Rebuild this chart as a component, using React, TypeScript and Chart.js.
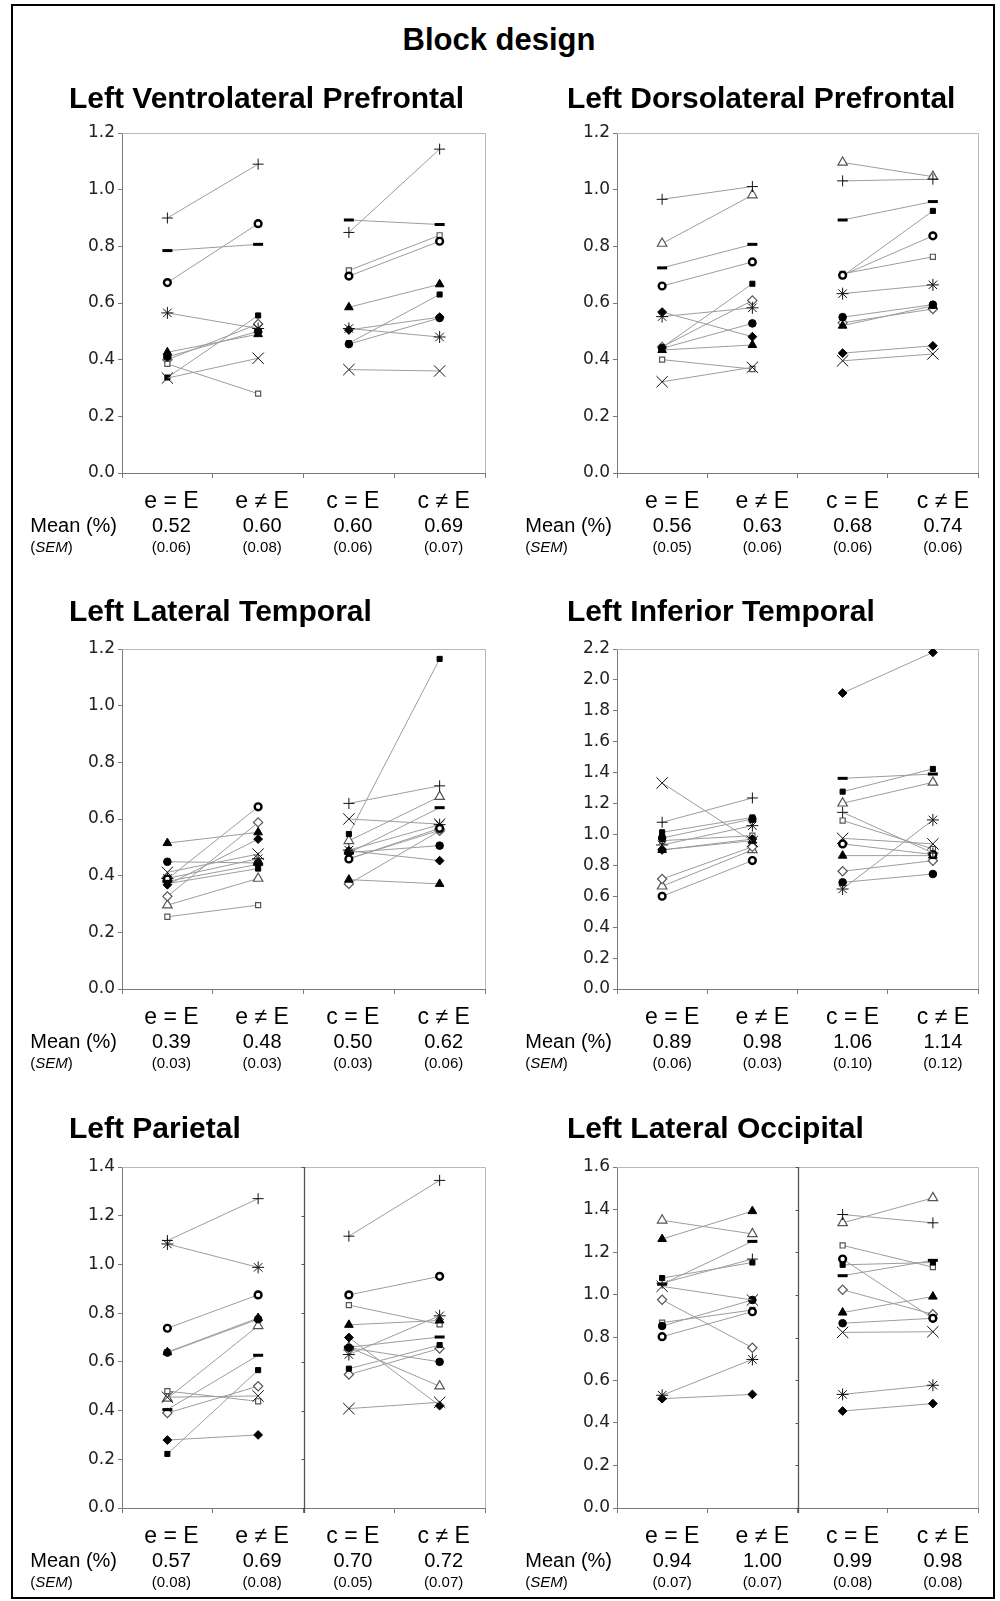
import React, { useEffect, useRef } from 'react';
import { Chart, registerables } from 'chart.js';

Chart.register(...registerables);

// ---------- data ----------
const CATEGORIES = ['e = E', 'e \u2260 E', 'c = E', 'c \u2260 E'];
const CATEGORY_X = [0.5, 1.5, 2.5, 3.5];

// subject order: +, dash, bold circle, asterisk, X, filled square, filled diamond,
// filled triangle, filled circle, open square, open diamond, open triangle
const LVP_E_EQ = [0.90, 0.785, 0.672, 0.565, 0.335, 0.337, null, 0.426, 0.41, 0.385, 0.40, null];
const LVP_E_NE = [1.09, 0.807, 0.88, 0.51, 0.405, 0.556, null, 0.49, 0.50, 0.28, 0.526, null];
const LVP_C_EQ = [0.849, 0.893, 0.695, 0.51, 0.365, 0.458, 0.505, 0.585, 0.455, 0.715, null, null];
const LVP_C_NE = [1.143, 0.877, 0.818, 0.48, 0.36, 0.63, 0.55, 0.666, 0.547, 0.839, null, null];
const LVP_MEAN = ['0.52', '0.60', '0.60', '0.69'];
const LVP_SEM = ['(0.06)', '(0.08)', '(0.06)', '(0.07)'];

const LDP_E_EQ = [0.966, 0.724, 0.66, 0.552, 0.322, 0.443, 0.568, 0.434, 0.44, 0.40, 0.445, 0.81];
const LDP_E_NE = [1.011, 0.807, 0.745, 0.583, 0.373, 0.668, 0.481, 0.452, 0.528, 0.367, 0.609, 0.981];
const LDP_C_EQ = [1.031, 0.893, 0.698, 0.633, 0.396, 0.695, 0.423, 0.52, 0.55, 0.703, 0.53, 1.096];
const LDP_C_NE = [1.037, 0.958, 0.837, 0.664, 0.42, 0.925, 0.449, 0.59, 0.594, 0.763, 0.579, 1.046];
const LDP_MEAN = ['0.56', '0.63', '0.68', '0.74'];
const LDP_SEM = ['(0.05)', '(0.06)', '(0.06)', '(0.06)'];

const LLT_E_EQ = [null, 0.38, 0.388, 0.39, 0.412, 0.372, 0.368, 0.515, 0.449, 0.255, 0.327, 0.296];
const LLT_E_NE = [null, 0.44, 0.643, 0.46, 0.476, 0.425, 0.529, 0.553, 0.445, 0.296, 0.588, 0.39];
const LLT_C_EQ = [0.655, 0.48, 0.459, 0.49, 0.60, 0.547, 0.488, 0.386, 0.482, 0.46, 0.371, 0.523];
const LLT_C_NE = [0.717, 0.64, 0.567, 0.58, 0.582, 1.165, 0.453, 0.371, 0.506, 0.56, 0.558, 0.679];
const LLT_MEAN = ['0.39', '0.48', '0.50', '0.62'];
const LLT_SEM = ['(0.03)', '(0.03)', '(0.03)', '(0.06)'];

const LIT_E_EQ = [1.079, null, 0.60, 0.932, 1.333, 1.014, 0.90, 0.90, 0.977, 0.96, 0.712, 0.665];
const LIT_E_NE = [1.236, null, 0.831, 1.057, 0.955, 1.11, 0.97, 0.96, 1.10, 0.992, 0.92, 0.90];
const LIT_C_EQ = [1.143, 1.363, 0.939, 0.647, 0.975, 1.277, 1.915, 0.863, 0.69, 1.09, 0.762, 1.202];
const LIT_C_NE = [0.88, 1.391, 0.87, 1.094, 0.939, 1.424, 2.178, 0.863, 0.744, 0.906, 0.83, 1.337];
const LIT_MEAN = ['0.89', '0.98', '1.06', '1.14'];
const LIT_SEM = ['(0.06)', '(0.03)', '(0.10)', '(0.12)'];

const LP_E_EQ = [1.098, 0.404, 0.738, 1.084, 0.455, 0.222, 0.279, 0.64, 0.638, 0.48, 0.39, 0.45];
const LP_E_NE = [1.27, 0.627, 0.875, 0.988, 0.46, 0.566, 0.30, 0.78, 0.775, 0.438, 0.50, 0.748];
const LP_C_EQ = [1.116, 0.66, 0.875, 0.63, 0.408, 0.572, 0.70, 0.752, 0.658, 0.833, 0.548, 0.66];
const LP_C_NE = [1.345, 0.702, 0.951, 0.789, 0.434, 0.669, 0.42, 0.77, 0.60, 0.754, 0.655, 0.50];
const LP_MEAN = ['0.57', '0.69', '0.70', '0.72'];
const LP_SEM = ['(0.08)', '(0.08)', '(0.05)', '(0.07)'];

const LLO_E_EQ = [1.055, 1.05, 0.804, 0.529, 1.04, 1.079, 0.513, 1.262, 0.854, 0.87, 0.977, 1.35];
const LLO_E_NE = [1.168, 1.251, 0.921, 0.697, 0.976, 1.152, 0.533, 1.393, 0.976, 0.929, 0.752, 1.286];
const LLO_C_EQ = [1.377, 1.09, 1.168, 0.533, 0.824, 1.141, 0.455, 0.917, 0.867, 1.232, 1.024, 1.338];
const LLO_C_NE = [1.338, 1.162, 0.89, 0.576, 0.827, 1.152, 0.49, 0.992, 0.89, 1.13, 0.909, 1.455];
const LLO_MEAN = ['0.94', '1.00', '0.99', '0.98'];
const LLO_SEM = ['(0.07)', '(0.07)', '(0.08)', '(0.08)'];

const TICKS_12 = [0, 0.2, 0.4, 0.6, 0.8, 1.0, 1.2];
const TICKS_22 = [0, 0.2, 0.4, 0.6, 0.8, 1.0, 1.2, 1.4, 1.6, 1.8, 2.0, 2.2];
const TICKS_14 = [0, 0.2, 0.4, 0.6, 0.8, 1.0, 1.2, 1.4];
const TICKS_16 = [0, 0.2, 0.4, 0.6, 0.8, 1.0, 1.2, 1.4, 1.6];

// ---------- styling ----------
const MARKERS = [
  { style: 'cross', r: 5.5, fill: '#000', stroke: '#111', w: 1 },
  { style: 'line', r: 5, fill: '#000', stroke: '#000', w: 3 },
  { style: 'circle', r: 3.4, fill: '#fff', stroke: '#000', w: 2.4 },
  { style: 'star', r: 6, fill: '#000', stroke: '#111', w: 1 },
  { style: 'crossRot', r: 8, fill: '#000', stroke: '#111', w: 1 },
  { style: 'rect', r: 3.6, fill: '#000', stroke: '#000', w: 1 },
  { style: 'rectRot', r: 4.4, fill: '#000', stroke: '#000', w: 1 },
  { style: 'triangle', r: 5, fill: '#000', stroke: '#000', w: 1 },
  { style: 'circle', r: 3.8, fill: '#000', stroke: '#000', w: 1 },
  { style: 'rect', r: 3.6, fill: '#fff', stroke: '#555', w: 1.2 },
  { style: 'rectRot', r: 4.6, fill: '#fff', stroke: '#555', w: 1.2 },
  { style: 'triangle', r: 5.5, fill: '#fff', stroke: '#555', w: 1.2 },
];

const ROWS = [
  { plotTop: 133, plotBottom: 473, titleBase: 108 },
  { plotTop: 649, plotBottom: 989, titleBase: 621 },
  { plotTop: 1167, plotBottom: 1508, titleBase: 1138 },
];
const COLS = [
  { canvasLeft: 14, width: 481, plotLeft: 122, plotRight: 485, titleX: 69, shift: 4 },
  { canvasLeft: 500, width: 485, plotLeft: 617, plotRight: 978, titleX: 567, shift: 10 },
];

const PANELS = [
  { title: 'Left Ventrolateral Prefrontal', row: 0, col: 0, eEq: LVP_E_EQ, eNe: LVP_E_NE, cEq: LVP_C_EQ, cNe: LVP_C_NE, means: LVP_MEAN, sems: LVP_SEM, ticks: TICKS_12, divider: false },
  { title: 'Left Dorsolateral Prefrontal', row: 0, col: 1, eEq: LDP_E_EQ, eNe: LDP_E_NE, cEq: LDP_C_EQ, cNe: LDP_C_NE, means: LDP_MEAN, sems: LDP_SEM, ticks: TICKS_12, divider: false },
  { title: 'Left Lateral Temporal', row: 1, col: 0, eEq: LLT_E_EQ, eNe: LLT_E_NE, cEq: LLT_C_EQ, cNe: LLT_C_NE, means: LLT_MEAN, sems: LLT_SEM, ticks: TICKS_12, divider: false },
  { title: 'Left Inferior Temporal', row: 1, col: 1, eEq: LIT_E_EQ, eNe: LIT_E_NE, cEq: LIT_C_EQ, cNe: LIT_C_NE, means: LIT_MEAN, sems: LIT_SEM, ticks: TICKS_22, divider: false },
  { title: 'Left Parietal', row: 2, col: 0, eEq: LP_E_EQ, eNe: LP_E_NE, cEq: LP_C_EQ, cNe: LP_C_NE, means: LP_MEAN, sems: LP_SEM, ticks: TICKS_14, divider: true },
  { title: 'Left Lateral Occipital', row: 2, col: 1, eEq: LLO_E_EQ, eNe: LLO_E_NE, cEq: LLO_C_EQ, cNe: LLO_C_NE, means: LLO_MEAN, sems: LLO_SEM, ticks: TICKS_16, divider: true },
];

const SANS = '"Liberation Sans", Arial, Helvetica, sans-serif';
const WY = 45;
const HX = 8;

function pairDataset(m: any, a: number | null, b: number | null, xa: number, xb: number) {
  const data: any[] = [];
  if (a !== null && a !== undefined) data.push({ x: xa, y: a });
  if (b !== null && b !== undefined) data.push({ x: xb, y: b });
  return {
    data,
    showLine: true,
    borderColor: '#9c9c9c',
    borderWidth: 1,
    pointStyle: m.style,
    pointRadius: m.r,
    pointHoverRadius: m.r,
    pointBackgroundColor: m.fill,
    pointBorderColor: m.stroke,
    pointBorderWidth: m.w,
    fill: false,
  };
}

const decorPlugin = {
  id: 'panelDecor',
  beforeDatasetsDraw(chart: any, _args: any, opts: any) {
    const { ctx, chartArea: a, scales } = chart;
    ctx.save();
    ctx.strokeStyle = '#b8b8b8';
    ctx.lineWidth = 1;
    ctx.beginPath();
    ctx.moveTo(a.left, Math.round(a.top) + 0.5);
    ctx.lineTo(Math.round(a.right) + 0.5, Math.round(a.top) + 0.5);
    ctx.lineTo(Math.round(a.right) + 0.5, a.bottom);
    ctx.stroke();
    if (opts.divider) {
      const xs = Math.round(scales.x.getPixelForValue(2)) + 0.5;
      ctx.strokeStyle = '#555';
      ctx.lineWidth = 1.3;
      ctx.beginPath();
      ctx.moveTo(xs, a.top);
      ctx.lineTo(xs, a.bottom + 5);
      ctx.stroke();
      ctx.lineWidth = 1;
      ctx.beginPath();
      for (const v of opts.ticks) {
        const y = Math.round(scales.y.getPixelForValue(v)) + 0.5;
        ctx.moveTo(xs - 3, y);
        ctx.lineTo(xs, y);
      }
      ctx.stroke();
    }
    ctx.restore();
  },
  afterDraw(chart: any, _args: any, opts: any) {
    const { ctx, chartArea: a, scales } = chart;
    ctx.save();
    ctx.fillStyle = '#000';
    // title
    ctx.font = `bold 30px ${SANS}`;
    ctx.textAlign = 'left';
    ctx.textBaseline = 'alphabetic';
    ctx.fillText(opts.title, opts.titleX, opts.titleBase);
    // category labels, means, sems
    ctx.textAlign = 'center';
    CATEGORY_X.forEach((v, i) => {
      const x = scales.x.getPixelForValue(v) + opts.shift;
      ctx.font = `23px ${SANS}`;
      ctx.fillText(CATEGORIES[i], x, a.bottom + 35);
      ctx.font = `20px ${SANS}`;
      ctx.fillText(opts.means[i], x, a.bottom + 59);
      ctx.font = `15px ${SANS}`;
      ctx.fillText(opts.sems[i], x, a.bottom + 79);
    });
    // row labels
    ctx.font = `20px ${SANS}`;
    ctx.textAlign = 'right';
    const meanRight = a.left - 5;
    ctx.fillText('Mean (%)', meanRight, a.bottom + 59);
    const meanLeft = meanRight - ctx.measureText('Mean (%)').width;
    ctx.textAlign = 'left';
    ctx.font = `15px ${SANS}`;
    let x = meanLeft;
    ctx.fillText('(', x, a.bottom + 79);
    x += ctx.measureText('(').width;
    ctx.font = `italic 15px ${SANS}`;
    ctx.fillText('SEM', x, a.bottom + 79);
    x += ctx.measureText('SEM').width;
    ctx.font = `15px ${SANS}`;
    ctx.fillText(')', x, a.bottom + 79);
    ctx.restore();
  },
};

function Panel({ p }: { p: any }) {
  const ref = useRef<HTMLCanvasElement>(null);
  const row = ROWS[p.row];
  const col = COLS[p.col];
  const top = row.titleBase - 35;
  const height = row.plotBottom + 88 - top;
  const padTop = row.plotTop - top;
  const padBottom = height - (row.plotBottom - top) - HX;
  const padLeft = col.plotLeft - col.canvasLeft - WY;
  const padRight = col.canvasLeft + col.width - col.plotRight;

  useEffect(() => {
    const datasets: any[] = [];
    MARKERS.forEach((m, i) => {
      datasets.push(pairDataset(m, p.eEq[i], p.eNe[i], CATEGORY_X[0], CATEGORY_X[1]));
      datasets.push(pairDataset(m, p.cEq[i], p.cNe[i], CATEGORY_X[2], CATEGORY_X[3]));
    });
    const ymax = p.ticks[p.ticks.length - 1];
    const chart = new Chart(ref.current as HTMLCanvasElement, {
      type: 'scatter',
      data: { datasets },
      plugins: [decorPlugin],
      options: {
        animation: false,
        responsive: false,
        maintainAspectRatio: false,
        events: [],
        layout: {
          autoPadding: false,
          padding: { left: padLeft, right: padRight, top: padTop, bottom: padBottom },
        },
        plugins: {
          legend: { display: false },
          tooltip: { enabled: false },
          title: { display: false },
          panelDecor: {
            title: p.title,
            titleX: col.titleX - col.canvasLeft,
            titleBase: row.titleBase - top,
            shift: col.shift,
            means: p.means,
            sems: p.sems,
            divider: p.divider,
            ticks: p.ticks,
          },
        } as any,
        scales: {
          x: {
            type: 'linear',
            min: 0,
            max: 4,
            afterBuildTicks: (s: any) => {
              s.ticks = [0, 1, 2, 3, 4].map((v) => ({ value: v }));
            },
            ticks: { display: false },
            grid: { drawOnChartArea: false, drawTicks: true, tickLength: 5, color: '#7a7a7a' },
            border: { display: true, color: '#7a7a7a', width: 1 },
            afterFit: (s: any) => {
              s.height = HX;
            },
          },
          y: {
            type: 'linear',
            min: 0,
            max: ymax,
            afterBuildTicks: (s: any) => {
              s.ticks = p.ticks.map((v: number) => ({ value: v }));
            },
            ticks: {
              font: { family: '"DejaVu Sans", Verdana, sans-serif', size: 17 },
              color: '#222',
              padding: 3,
              callback: (v: any) => Number(v).toFixed(1),
            },
            grid: { drawOnChartArea: false, drawTicks: true, tickLength: 4, color: '#7a7a7a' },
            border: { display: true, color: '#7a7a7a', width: 1 },
            afterFit: (s: any) => {
              s.width = WY;
            },
          },
        },
      } as any,
    });
    return () => chart.destroy();
  }, []);

  return (
    <canvas
      ref={ref}
      width={col.width}
      height={height}
      style={{ position: 'absolute', left: col.canvasLeft, top, width: col.width, height }}
    />
  );
}

export default function App() {
  return (
    <div style={{ position: 'absolute', left: 0, top: 0, width: 1000, height: 1601, background: '#fff', overflow: 'hidden' }}>
      <div
        style={{
          position: 'absolute',
          left: 11,
          top: 4,
          width: 980,
          height: 1591,
          border: '2px solid #000',
        }}
      />
      <div
        style={{
          position: 'absolute',
          left: 0,
          top: 24,
          width: 998,
          textAlign: 'center',
          font: `bold 31px ${SANS}`,
          lineHeight: '31px',
          color: '#000',
        }}
      >
        Block design
      </div>
      {PANELS.map((p) => (
        <Panel key={p.title} p={p} />
      ))}
    </div>
  );
}
